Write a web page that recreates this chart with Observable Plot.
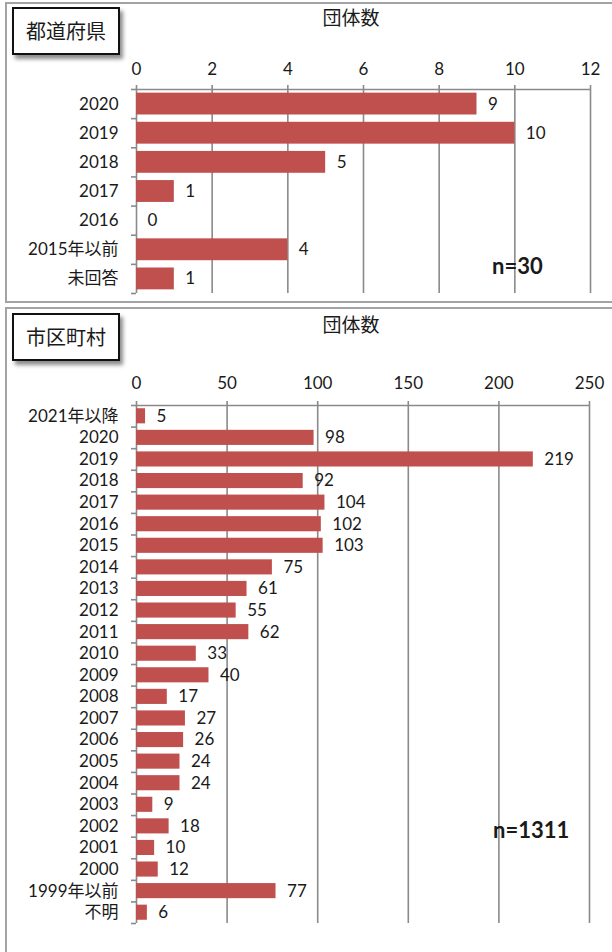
<!DOCTYPE html>
<html>
<head>
<meta charset="utf-8">
<script src="https://cdn.jsdelivr.net/npm/d3@7"></script>
<script src="https://cdn.jsdelivr.net/npm/@observablehq/plot@0.6"></script>
<style>
  html, body { margin: 0; padding: 0; background: #fff; }
  body { width: 612px; height: 952px; position: relative; overflow: hidden;
         font-family: Lato, "Noto Sans CJK JP", sans-serif; color: #1a1a1a; }
  .frame { position: absolute; border: 2px solid #a3a3a3; box-sizing: border-box; }
  .chart { position: absolute; left: 0; }
  .tag { position: absolute; left: 12px; width: 108px; height: 48px; box-sizing: border-box;
         border: 2px solid #111; background: #fff; box-shadow: 3px 4px 4px rgba(0,0,0,0.45);
         font-family: "Noto Sans CJK JP", sans-serif; font-size: 20px; line-height: 44px; text-align: center; }
  .title { position: absolute; width: 120px; margin-left: -60px; text-align: center;
           font-family: "Noto Sans CJK JP", sans-serif; font-size: 19px; line-height: 22px; }
  .n { position: absolute; font-family: Lato, sans-serif; font-weight: bold; font-size: 22px; line-height: 22px; }
</style>
</head>
<body>
<div class="frame" style="left:5px; top:2px; width:640px; height:301px;"></div>
<div class="frame" style="left:5px; top:307px; width:640px; height:700px;"></div>
<div id="c1" class="chart" style="top:0px;"></div>
<div id="c2" class="chart" style="top:308px;"></div>
<div class="tag" style="top:7px;">都道府県</div>
<div class="tag" style="top:313px;">市区町村</div>
<div class="title" style="left:351px; top:6px;">団体数</div>
<div class="title" style="left:351px; top:313px;">団体数</div>
<div class="n" style="left:492px; top:255px;">n=30</div>
<div class="n" style="left:493px; top:819px;">n=1311</div>
<script>
// 都道府県
const catsPref = ["2020", "2019", "2018", "2017", "2016", "2015年以前", "未回答"];
const valsPref = [9, 10, 5, 1, 0, 4, 1];
const ticksPref = [0, 2, 4, 6, 8, 10, 12];

// 市区町村
const catsMuni = ["2021年以降", "2020", "2019", "2018", "2017", "2016", "2015", "2014", "2013", "2012",
  "2011", "2010", "2009", "2008", "2007", "2006", "2005", "2004", "2003", "2002", "2001", "2000",
  "1999年以前", "不明"];
const valsMuni = [5, 98, 219, 92, 104, 102, 103, 75, 61, 55, 62, 33, 40, 17, 27, 26, 24, 24, 9, 18, 10, 12, 77, 6];
const ticksMuni = [0, 50, 100, 150, 200, 250];

function panel({cats, vals, ticks, height, marginTop, marginBottom, marginRight, padding, tickPadding}) {
  const data = cats.map((c, i) => ({c, v: vals[i]}));
  const step = (height - marginTop - marginBottom) / cats.length;
  const xmax = ticks[ticks.length - 1];
  const gray = "#8a8a8a";
  return Plot.plot({
    width: 612, height, marginTop, marginBottom, marginLeft: 136, marginRight,
    style: {fontFamily: "Lato, 'Noto Sans CJK JP', sans-serif", fontSize: "17px", color: "#1a1a1a", background: "transparent", overflow: "visible"},
    x: {domain: [0, xmax], ticks, axis: "top", tickSize: 0, tickPadding, label: null},
    y: {domain: cats, paddingInner: padding, paddingOuter: padding / 2, round: false, tickSize: 0, tickPadding: 18, label: null},
    marks: [
      Plot.ruleX(ticks, {stroke: gray, strokeWidth: 1.6, insetTop: -4}),
      Plot.ruleY([cats[0]], {x1: 0, x2: xmax, dy: -step / 2, stroke: gray, strokeWidth: 1.6}),
      Plot.ruleY(cats, {x1: 0, x2: 0, insetLeft: -5, dy: -step / 2, stroke: gray, strokeWidth: 1.6}),
      Plot.ruleY([cats[cats.length - 1]], {x1: 0, x2: 0, insetLeft: -5, dy: step / 2, stroke: gray, strokeWidth: 1.6}),
      Plot.barX(data, {x: "v", y: "c", fill: "#c0504d"}),
      Plot.text(data, {x: "v", y: "c", text: d => String(d.v), dx: 11, textAnchor: "start", fill: "#1a1a1a"})
    ]
  });
}

document.getElementById("c1").append(panel({cats: catsPref, vals: valsPref, ticks: ticksPref,
  height: 300, marginTop: 89, marginBottom: 7, marginRight: 22, padding: 0.25, tickPadding: 15}));
document.getElementById("c2").append(panel({cats: catsMuni, vals: valsMuni, ticks: ticksMuni,
  height: 644, marginTop: 97, marginBottom: 29, marginRight: 23, padding: 0.3, tickPadding: 17}));
</script>
</body>
</html>
